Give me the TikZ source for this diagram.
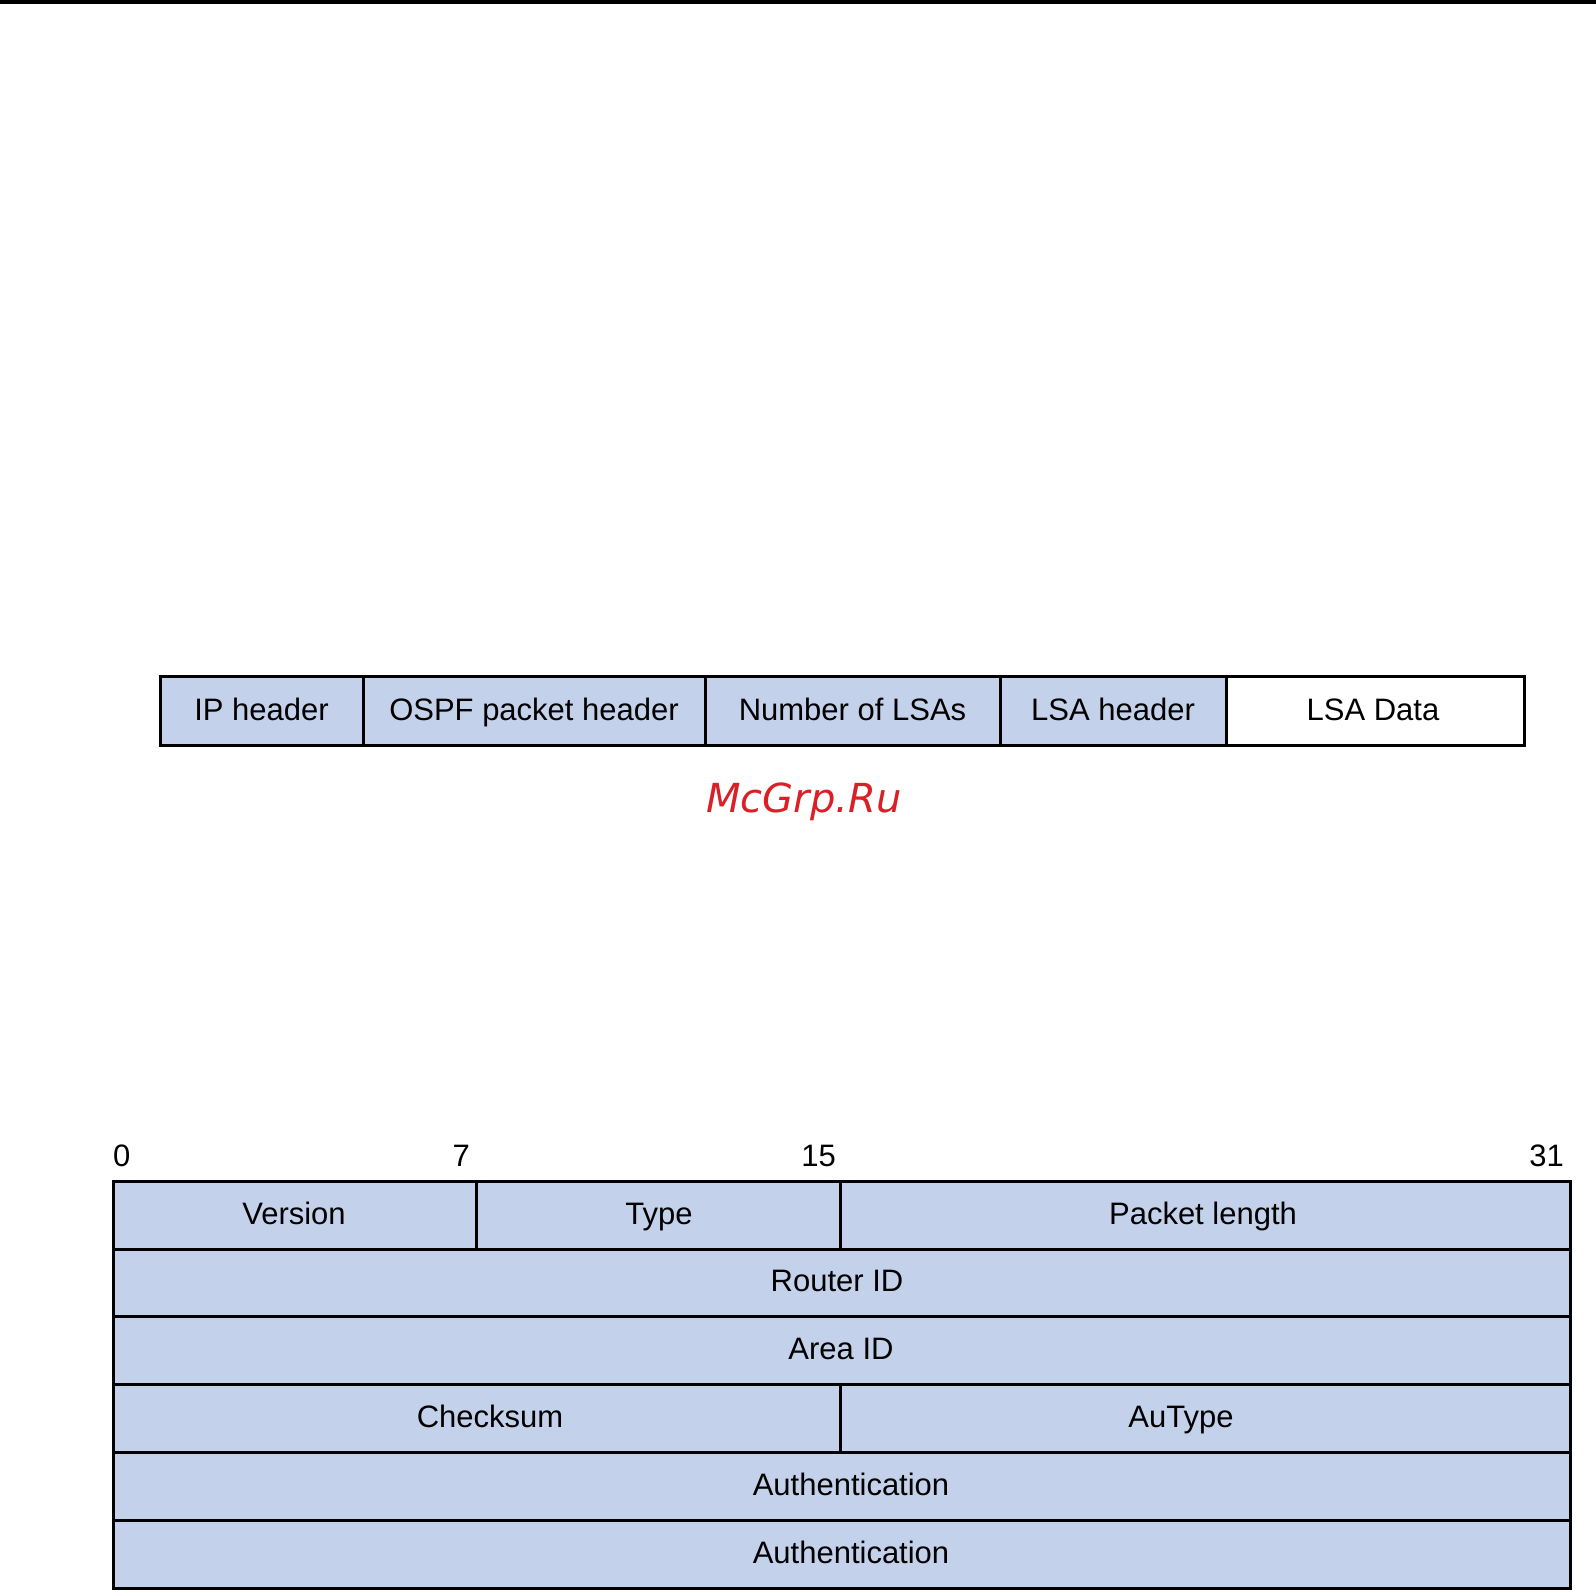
\documentclass[tikz,border=0pt]{standalone}
\usepackage{fontspec}
\setmainfont{Liberation Sans}
\newfontfamily\markfont{DejaVu Sans}
\definecolor{cellblue}{RGB}{196,209,234}
\definecolor{markred}{RGB}{218,32,38}

\begin{document}
\begin{tikzpicture}[x=1pt,y=-1pt,
    cell/.style={draw=black,line width=3pt,fill=cellblue},
    blank/.style={draw=black,line width=3pt,fill=white},
    lbl/.style={font=\fontsize{31}{36}\selectfont,inner sep=0pt,text height=22.2pt,text depth=0pt},
    bitno/.style={lbl,anchor=east}]
    \useasboundingbox (0,0) rectangle (1596,1594);
    \fill[black] (0,0) rectangle (1596,4);

    % encapsulation of the packet
    \foreach \xa/\xb/\name/\lab in {
      160/363/ip/{IP header},
      363/705/ospf/{OSPF packet header},
      705/1000/num/{Number of LSAs},
      1000/1226/lsah/{LSA header}}
    {
      \draw[cell] (\xa,676) rectangle (\xb,745);
      \node[lbl] (\name) at ({(\xa+\xb)/2},709) {\lab};
    }
    \draw[blank] (1226,676) rectangle (1524,745);
    \node[lbl] (lsad) at (1373,709) {LSA Data};

    \node[font=\markfont\itshape\fontsize{40}{48}\selectfont,text=markred,anchor=base,inner sep=0pt] (mark) at (804,812) {McGrp.Ru};

    % header fields
    \node[lbl,anchor=west] (b0) at (113,1155) {0};
    \node[bitno] (b7) at (470,1155) {7};
    \node[bitno] (b15) at (836,1155) {15};
    \node[bitno] (b31) at (1564,1155) {31};
    \foreach \xa/\ya/\xb/\yb/\lx/\name/\lab in {
      113/1181/476/1249/294/ver/{Version},
      476/1181/840/1249/659/typ/{Type},
      840/1181/1570/1249/1203/plen/{Packet length},
      113/1249/1570/1316/837/rid/{Router ID},
      113/1316/1570/1384/841/aid/{Area ID},
      113/1384/840/1452/490/csum/{Checksum},
      840/1384/1570/1452/1181/autype/{AuType},
      113/1452/1570/1520/851/auth1/{Authentication},
      113/1520/1570/1588/851/auth2/{Authentication}}
    {
      \draw[cell] (\xa,\ya) rectangle (\xb,\yb);
      \node[lbl] (\name) at (\lx,{(\ya+\yb)/2-2}) {\lab};
    }
  \end{tikzpicture}
\end{document}
